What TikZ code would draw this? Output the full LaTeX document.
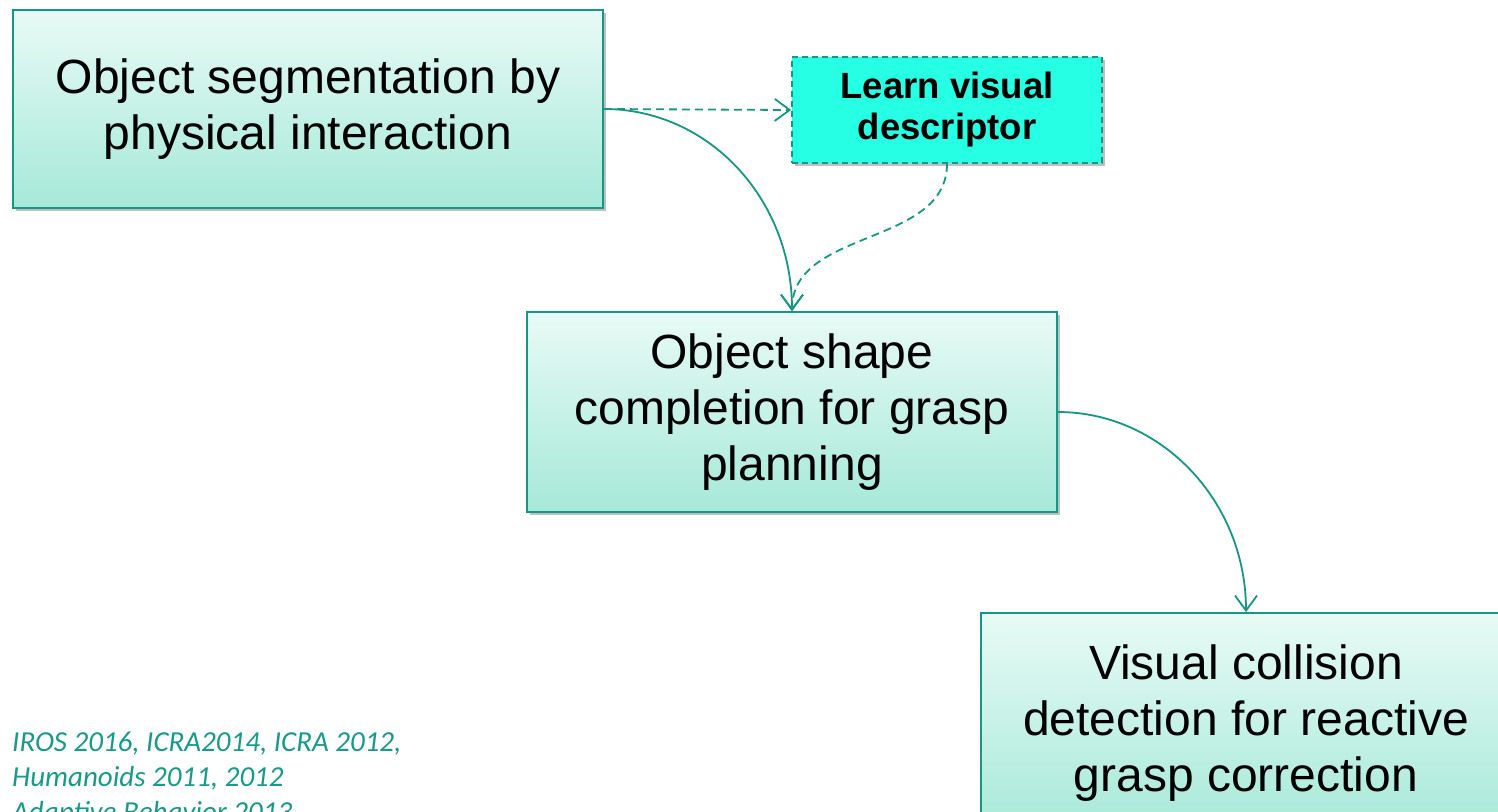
\documentclass[tikz,border=0pt]{standalone}
\usepackage{fontspec}
\setmainfont{Liberation Sans}
\newfontfamily\calib{Carlito}
\usetikzlibrary{arrows.meta,shadows}
\definecolor{tealline}{HTML}{159784}
\definecolor{tealtext}{HTML}{179A88}
\definecolor{boxtop}{HTML}{E8FAF6}
\definecolor{boxbot}{HTML}{A6E9D8}
\definecolor{learnfill}{HTML}{26FFE3}
\tikzset{
  mainbox/.style={draw=tealline, line width=1.8pt, top color=boxtop, bottom color=boxbot,
    align=center, inner sep=0pt, font=\fontsize{48}{56}\selectfont,
    drop shadow={shadow xshift=3pt, shadow yshift=-3pt, opacity=0.35, fill=black!70}},
  learnbox/.style={draw=tealline, line width=1.5pt, dash pattern=on 6pt off 4pt, fill=learnfill,
    align=center, inner sep=0pt, font=\bfseries\fontsize{36.5}{41}\selectfont,
    minimum width=310pt, minimum height=106pt,
    drop shadow={shadow xshift=3pt, shadow yshift=-3pt, opacity=0.35, fill=black!70}},
  sline/.style={draw=tealline, line width=1.8pt, -{Straight Barb[length=15pt,width=22pt,line width=1.8pt]}},
  dline/.style={draw=tealline, line width=1.8pt, dash pattern=on 8pt off 5pt, -{Straight Barb[length=15pt,width=22pt,line width=1.8pt]}},
  reftext/.style={font=\calib\itshape\fontsize{29}{35}\selectfont, text=tealtext, align=left, inner sep=0pt, anchor=north west}
}
\begin{document}
\begin{tikzpicture}[x=1pt,y=-1pt]
\useasboundingbox[fill=white] (0,0) rectangle (1498,811);

\node[mainbox, minimum width=590pt, minimum height=198pt] (b1) at (308,109)
  {Object segmentation by\\physical interaction};
\node[learnbox] (learn) at (947,110) {Learn visual\\descriptor};
\node[mainbox, minimum width=530pt, minimum height=200pt] (b2) at (792,412)
  {Object shape\\completion for grasp\\planning};
\node[mainbox, minimum width=530pt, minimum height=220pt] (b3) at (1246,723)
  {Visual collision\\detection for reactive\\grasp correction};

\node[reftext] (refs) at (12,732)
  {IROS 2016, ICRA2014, ICRA 2012,\\Humanoids 2011, 2012\\Adaptive Behavior 2013};

\draw[dline] (b1.east) -- (learn.west);
\draw[sline] (b1.east) .. controls +(105,0) and +(0,-112) .. (b2.north);
\draw[dline] (learn.south) .. controls +(0,83) and +(0,-83) .. (b2.north);
\draw[sline] (b2.east) .. controls +(104,0) and +(0,-110) .. (b3.north);
\end{tikzpicture}
\end{document}
